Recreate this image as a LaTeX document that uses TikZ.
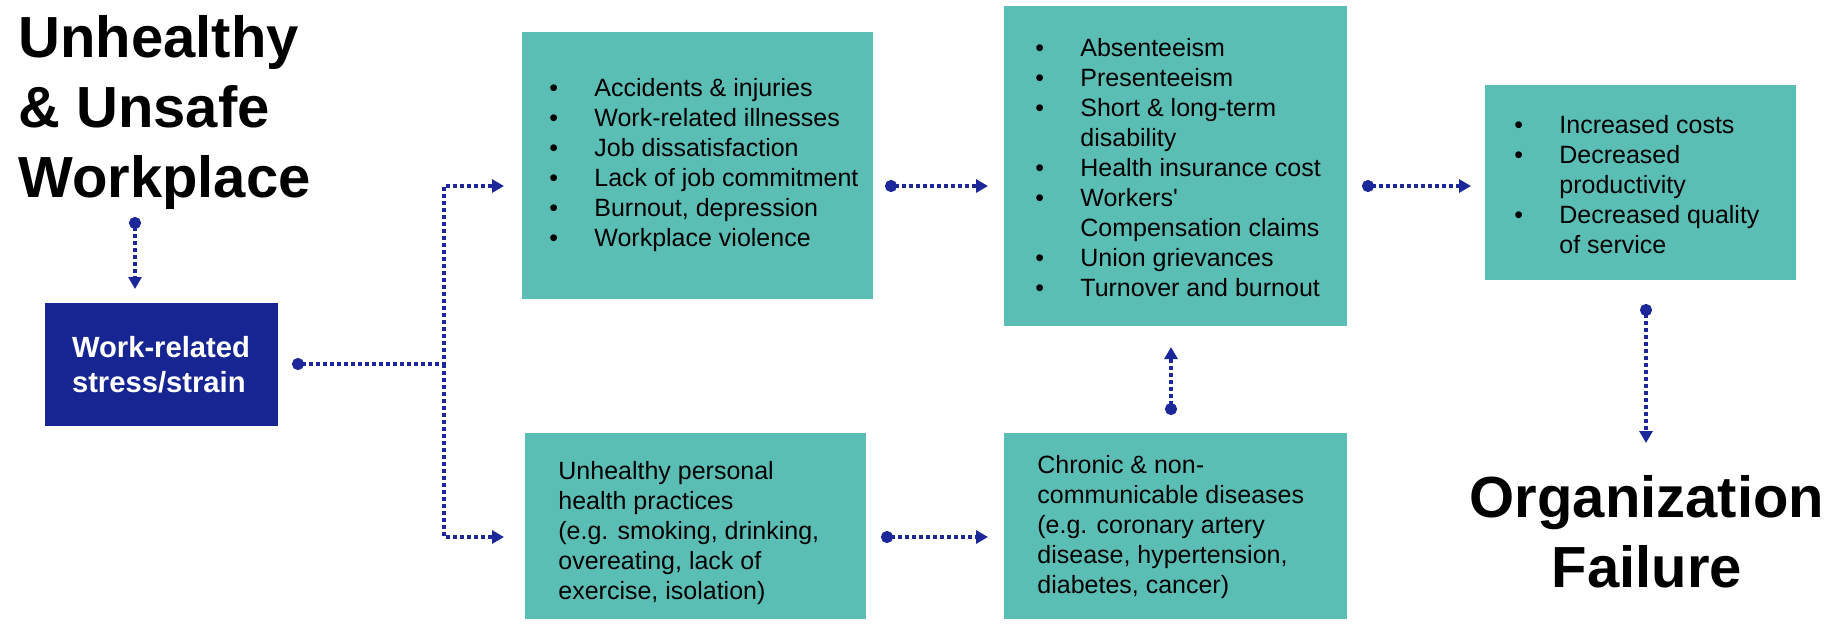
\documentclass[tikz,border=0pt]{standalone}
\usepackage{fontspec}
\setmainfont{Liberation Sans}
\newfontfamily\nomapfont{Liberation Sans}
\usetikzlibrary{arrows.meta}
\definecolor{teal1}{RGB}{91,190,180}
\definecolor{navy1}{RGB}{23,37,146}
\definecolor{arrowblue}{RGB}{28,40,154}
\newcommand\bitem{\makebox[22.5pt][l]{\textbullet}}
\newcommand\contl{\hspace*{22.5pt}}
\begin{document}
\begin{tikzpicture}[x=0.5pt,y=-0.5pt,
  box/.style={fill=teal1, draw=none, inner sep=0pt, anchor=north west},
  txt/.style={font=\fontsize{12.5}{15}\selectfont, align=left, inner sep=0pt, anchor=west},
  titletxt/.style={font=\fontsize{29}{35}\selectfont\bfseries, inner sep=0pt},
  wire/.style={draw=arrowblue, line width=1.7pt, dash pattern=on 1.8pt off 1.7pt},
  conn/.style={wire, {Circle[length=6pt]}-{Triangle[length=6pt,width=6.5pt]}},
  tipconn/.style={wire, -{Triangle[length=6pt,width=6.5pt]}}
]
\useasboundingbox (0,0) rectangle (1845,623);

% boxes
\node[box, minimum width=175.5pt, minimum height=133.5pt] (b1) at (522,32) {};
\node[box, minimum width=171.5pt, minimum height=160pt] (b2) at (1004,6) {};
\node[box, minimum width=155.5pt, minimum height=97.5pt] (b3) at (1485,85) {};
\node[box, minimum width=170.5pt, minimum height=93pt] (b4) at (525,433) {};
\node[box, minimum width=171.5pt, minimum height=93pt] (b5) at (1004,433) {};

\node[fill=navy1, minimum width=116.5pt, minimum height=61.5pt, inner sep=0pt,
      text=white, font=\fontsize{14.6}{17.5}\selectfont\bfseries, align=left] (wr) at (161,364.5)
      {Work-related\\stress/strain};

% texts
\node[txt] (t1) at (549,165) {\bitem Accidents \& injuries\\
\bitem Work-related illnesses\\
\bitem Job dissatisfaction\\
\bitem Lack of job commitment\\
\bitem Burnout, depression\\
\bitem Workplace violence};

\node[txt] (t2) at (1035,168) {\bitem Absenteeism\\
\bitem Presenteeism\\
\bitem Short \& long-term\\
\contl disability\\
\bitem Health insurance cost\\
\bitem Workers{\nomapfont'}\\
\contl Compensation claims\\
\bitem Union grievances\\
\bitem Turnover and burnout};

\node[txt] (t3) at (1514,184.5) {\bitem Increased costs\\
\bitem Decreased\\
\contl productivity\\
\bitem Decreased quality\\
\contl of service};

\node[txt] (t4) at (558,533) {Unhealthy personal\\
health practices\\
(e.g. smoking, drinking,\\
overeating, lack of\\
exercise, isolation)};

\node[txt] (t5) at (1037,527.5) {Chronic \& non-\\
communicable diseases\\
(e.g. coronary artery\\
disease, hypertension,\\
diabetes, cancer)};

% titles
\node[titletxt, anchor=base west, align=left] (ut) at (18,197) {Unhealthy\\\& Unsafe\\Workplace};
\node[titletxt, anchor=base, align=center] (of) at (1647,587) {Organization\\Failure};

% connector end points
\coordinate (p1s) at (135,217); \coordinate (p1e) at (135,289);
\coordinate (p2s) at (292,364); \coordinate (j) at (444,364);
\coordinate (p2a) at (504,186); \coordinate (p2b) at (504,537);
\coordinate (p3s) at (885,186); \coordinate (p3e) at (988,186);
\coordinate (p4s) at (1362,186); \coordinate (p4e) at (1471,186);
\coordinate (p5s) at (881,537); \coordinate (p5e) at (988,537);
\coordinate (p6s) at (1171,415); \coordinate (p6e) at (1171,347);
\coordinate (p7s) at (1646,304); \coordinate (p7e) at (1646,443);

\draw[conn] (p1s) -- (p1e);
\draw[conn] (p2s) -- (j) |- (p2a);
\draw[tipconn] (j) |- (p2b);
\draw[conn] (p3s) -- (p3e);
\draw[conn] (p4s) -- (p4e);
\draw[conn] (p5s) -- (p5e);
\draw[conn] (p6s) -- (p6e);
\draw[conn] (p7s) -- (p7e);
\end{tikzpicture}
\end{document}
